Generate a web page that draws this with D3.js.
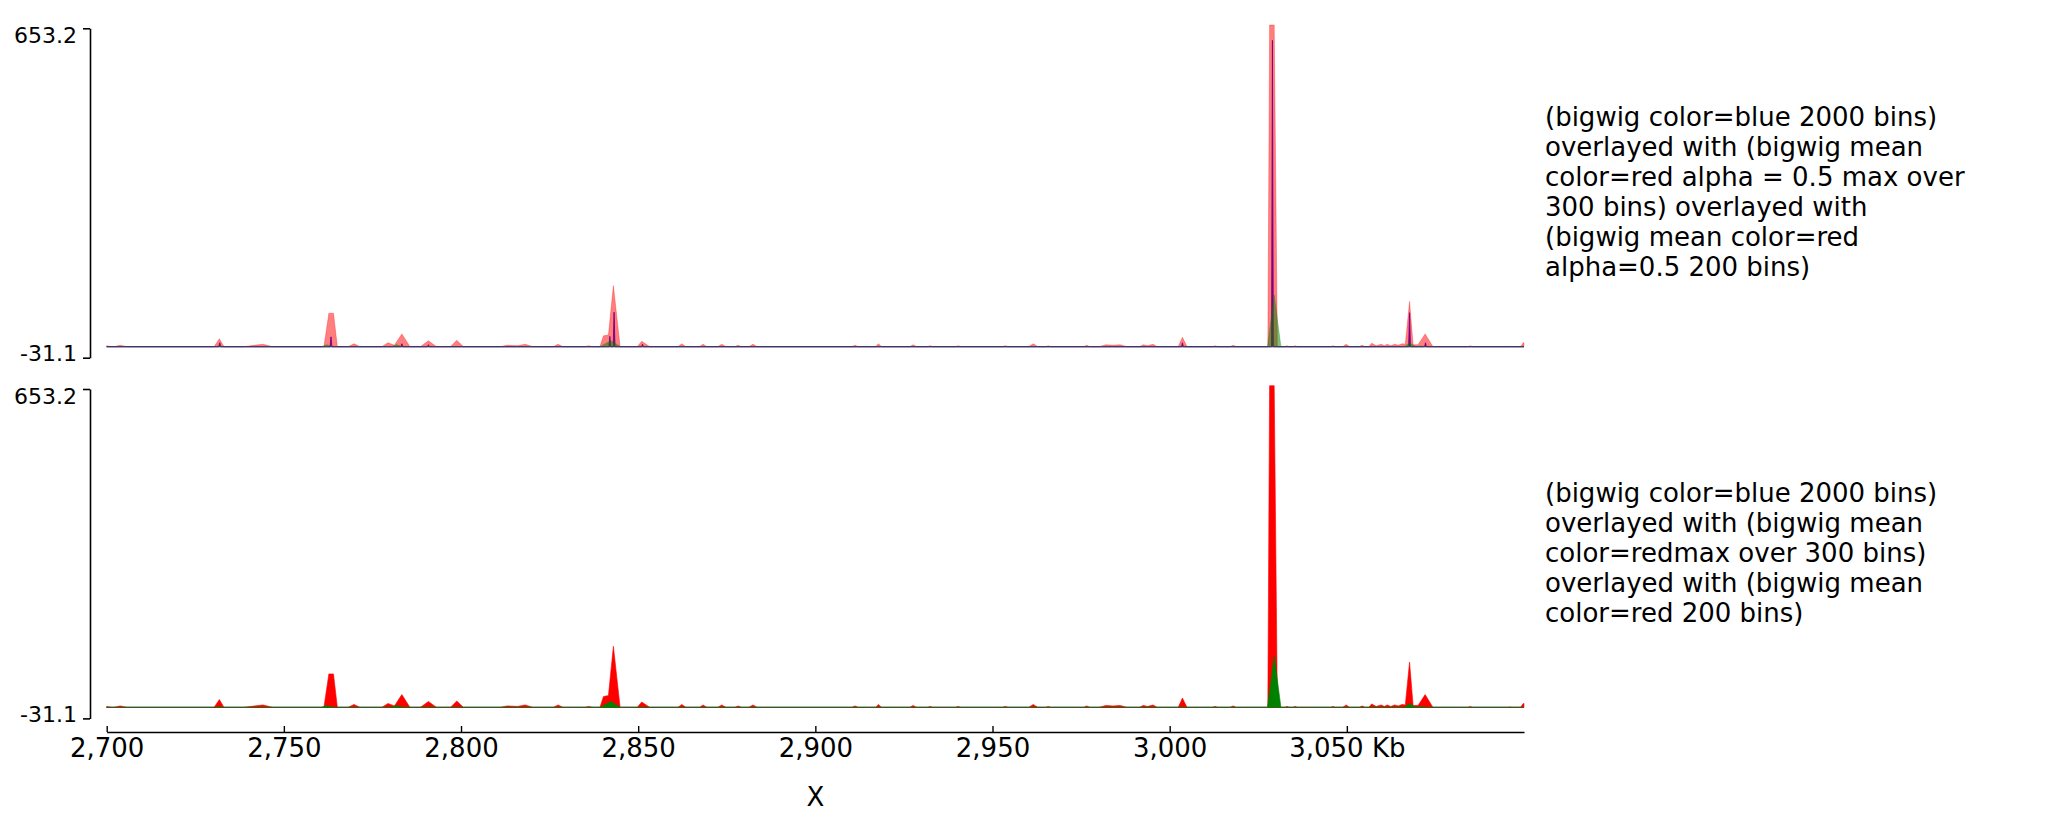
<!DOCTYPE html>
<html>
<head>
<meta charset="utf-8">
<script src="https://cdn.jsdelivr.net/npm/d3@7"></script>
<style>
  body { margin: 0; background: #fff; }
  svg { display: block; font-family: "DejaVu Sans", sans-serif; }
</style>
</head>
<body>
<svg id="chart" width="2047" height="838"></svg>
<script>
// region shown, in Kb
const xDomain = [2700, 3100];
const xTicks = [2700, 2750, 2800, 2850, 2900, 2950, 3000, 3050];
const yLimits = [-31.1, 653.2];

// bigwig, 2000 bins: narrow spikes [Kb, value]
const blueSpikes = [
  [2731.9, 8], [2763.3, 20], [2783.3, 6], [2790.8, 4], [2842.0, 21], [2843.2, 70],
  [2851.2, 5], [3003.6, 8], [3029.0, 622], [3067.7, 69], [3072.2, 8]
];

// bigwig max over 300 bins [Kb, value]
const redMax300 = [
  [2700.0, 2], [2701.5, 0], [2702.0, 0], [2703.8, 3], [2705.8, 0],
  [2730.3, 0], [2731.8, 16], [2733.1, 0],
  [2738.5, 0], [2744.1, 5], [2746.9, 0],
  [2761.3, 0], [2762.7, 68], [2764.0, 68], [2765.1, 0],
  [2768.1, 0], [2769.8, 6], [2771.5, 0],
  [2777.6, 0], [2779.4, 8], [2781.2, 3], [2783.3, 26], [2785.6, 0],
  [2788.5, 0], [2790.8, 12], [2793.1, 0],
  [2797.0, 0], [2798.8, 13], [2800.7, 0],
  [2811.0, 0], [2813.0, 3], [2816.0, 2], [2818.1, 5], [2820.3, 0],
  [2826.0, 0], [2827.4, 5], [2828.8, 0],
  [2835.0, 0], [2836.0, 2], [2837.2, 0],
  [2839.2, 0], [2840.2, 22], [2841.6, 24], [2843.0, 124], [2844.9, 0],
  [2849.7, 0], [2851.0, 11], [2853.3, 0],
  [2861.2, 0], [2862.3, 6], [2863.5, 0],
  [2867.3, 0], [2868.3, 5], [2869.4, 0],
  [2872.4, 0], [2873.6, 5], [2874.8, 0],
  [2877.3, 0], [2878.2, 3], [2879.2, 0],
  [2881.2, 0], [2882.4, 5], [2883.6, 0],
  [2910.3, 0], [2911.2, 3], [2912.1, 0],
  [2917.0, 0], [2917.8, 6], [2918.7, 0],
  [2926.6, 0], [2927.6, 4], [2928.6, 0],
  [2931.6, 0], [2932.4, 2], [2933.2, 0],
  [2939.5, 0], [2940.3, 2], [2941.1, 0],
  [2952.7, 0], [2953.6, 2], [2954.5, 0],
  [2960.2, 0], [2961.5, 6], [2962.8, 0],
  [2965.0, 0], [2965.7, 2], [2966.5, 0],
  [2975.7, 0], [2976.6, 3], [2977.5, 0],
  [2980.0, 0], [2982.0, 4], [2984.0, 3], [2986.0, 4], [2988.0, 0],
  [2991.5, 0], [2992.5, 4], [2993.8, 2], [2995.3, 5], [2996.5, 0],
  [3002.4, 0], [3003.6, 19], [3004.9, 0],
  [3012.0, 0], [3012.8, 2], [3013.6, 0],
  [3017.0, 0], [3017.9, 3], [3018.8, 0],
  [3027.7, 0], [3028.2, 653.2], [3029.5, 653.2], [3030.4, 0],
  [3032.5, 0], [3033.1, 2], [3033.8, 0],
  [3034.8, 0], [3035.4, 2], [3036.1, 0],
  [3045.4, 0], [3046.1, 2], [3046.8, 0],
  [3048.8, 0], [3049.8, 5], [3050.8, 0],
  [3053.5, 0], [3054.3, 3], [3055.2, 0],
  [3056.2, 0], [3057.0, 7], [3058.3, 2], [3059.7, 5], [3060.6, 2], [3061.4, 5],
  [3062.4, 2], [3063.5, 5], [3064.5, 3], [3065.6, 6], [3066.5, 5], [3067.7, 92], [3068.7, 4], [3070.1, 4],
  [3072.1, 26], [3074.3, 0],
  [3084.2, 0], [3084.8, 2], [3085.5, 0],
  [3095.5, 0], [3096.0, 1], [3096.5, 0],
  [3099.0, 0], [3099.8, 8], [3100.0, 8]
];

// bigwig mean over 200 bins [Kb, value]
const greenMean200 = [
  [2700.0, 0],
  [2730.5, 0], [2731.7, 1.5], [2732.9, 0],
  [2760.5, 0], [2762.1, 4], [2763.8, 0],
  [2780.2, 0], [2781.8, 4], [2783.5, 0],
  [2839.2, 0], [2842.3, 12], [2845.0, 0],
  [3027.6, 0], [3029.5, 105], [3031.4, 0],
  [3066.1, 0], [3067.8, 7.5], [3069.5, 0], [3071.0, 1.5], [3072.5, 0],
  [3100.0, 0]
];

const panelLabels = [
  ["(bigwig color=blue 2000 bins)", "overlayed with (bigwig mean", "color=red alpha = 0.5 max over",
   "300 bins) overlayed with", "(bigwig mean color=red", "alpha=0.5 200 bins)"],
  ["(bigwig color=blue 2000 bins)", "overlayed with (bigwig mean", "color=redmax over 300 bins)",
   "overlayed with (bigwig mean", "color=red 200 bins)"]
];
const panelAlpha = [0.5, 1];

const svg = d3.select("#chart");
const x = d3.scaleLinear().domain(xDomain).range([106.7, 1524]);

// blue spikes are single bins on a zero baseline
const bluePoints = [[xDomain[0], 0]];
blueSpikes.forEach(([k, v]) => bluePoints.push([k - 0.25, 0], [k, v], [k + 0.25, 0]));
bluePoints.push([xDomain[1], 0]);

const panelOffset = 360.7;

panelLabels.forEach((lines, i) => {
  const off = i * panelOffset;
  const g = svg.append("g");
  const yData = d3.scaleLinear().domain([0, yLimits[1]]).range([346.7 + off, 25 + off]);
  const yAxis = d3.scaleLinear().domain(yLimits).range([357.7 + off, 28.3 + off]);

  const area = d3.area()
    .x(d => x(d[0]))
    .y0(yData(0))
    .y1(d => yData(d[1]));

  const a = panelAlpha[i];
  const series = [
    [bluePoints, "blue", 1, 0.9],
    [redMax300, "red", a, 0.6],
    [greenMean200, "green", a, 0.6]
  ];
  series.forEach(([pts, col, op, sw]) => {
    g.append("path")
      .datum(pts)
      .attr("d", area)
      .attr("fill", col)
      .attr("fill-opacity", op)
      .attr("stroke", col)
      .attr("stroke-opacity", op)
      .attr("stroke-width", sw);
  });

  // y axis with just min / max labels
  const ax = g.append("g")
    .attr("transform", "translate(90,0)")
    .call(d3.axisLeft(yAxis).tickValues(yLimits).tickSize(7).tickSizeOuter(0).tickPadding(6)
      .tickFormat(d => d.toFixed(1)));
  ax.select(".domain").attr("stroke-width", 1.6);
  ax.selectAll(".tick line").attr("stroke-width", 1.6);
  ax.selectAll(".tick text")
    .attr("font-size", 22)
    .attr("font-family", "DejaVu Sans")
    .attr("fill", "#000")
    .attr("dy", (d, j) => j === 0 ? "3px" : "14.4px");

  // label text, centred on the panel
  const mid = (yAxis.range()[0] + yAxis.range()[1]) / 2;
  const lh = 30;
  const y0 = mid - (lines.length - 1) * lh / 2 + 8;
  const t = g.append("text")
    .attr("x", 1545)
    .attr("font-size", 26)
    .attr("fill", "#000");
  lines.forEach((s, j) => {
    t.append("tspan").attr("x", 1545).attr("y", y0 + j * lh).text(s);
  });
});

// x axis
const xa = svg.append("g")
  .attr("transform", "translate(0,732)")
  .call(d3.axisBottom(x).tickValues(xTicks).tickSizeInner(-6).tickSizeOuter(0).tickPadding(7)
    .tickFormat(d => d3.format(",")(d) + (d === 3050 ? " Kb" : "")));
xa.select(".domain").attr("stroke-width", 1.6);
xa.selectAll(".tick line").attr("stroke-width", 1.4);
xa.selectAll(".tick text")
  .attr("font-size", 26)
  .attr("font-family", "DejaVu Sans")
  .attr("fill", "#000");

svg.append("text")
  .attr("x", x(2900))
  .attr("y", 806)
  .attr("text-anchor", "middle")
  .attr("font-size", 26)
  .attr("fill", "#000")
  .text("X");
</script>
</body>
</html>
